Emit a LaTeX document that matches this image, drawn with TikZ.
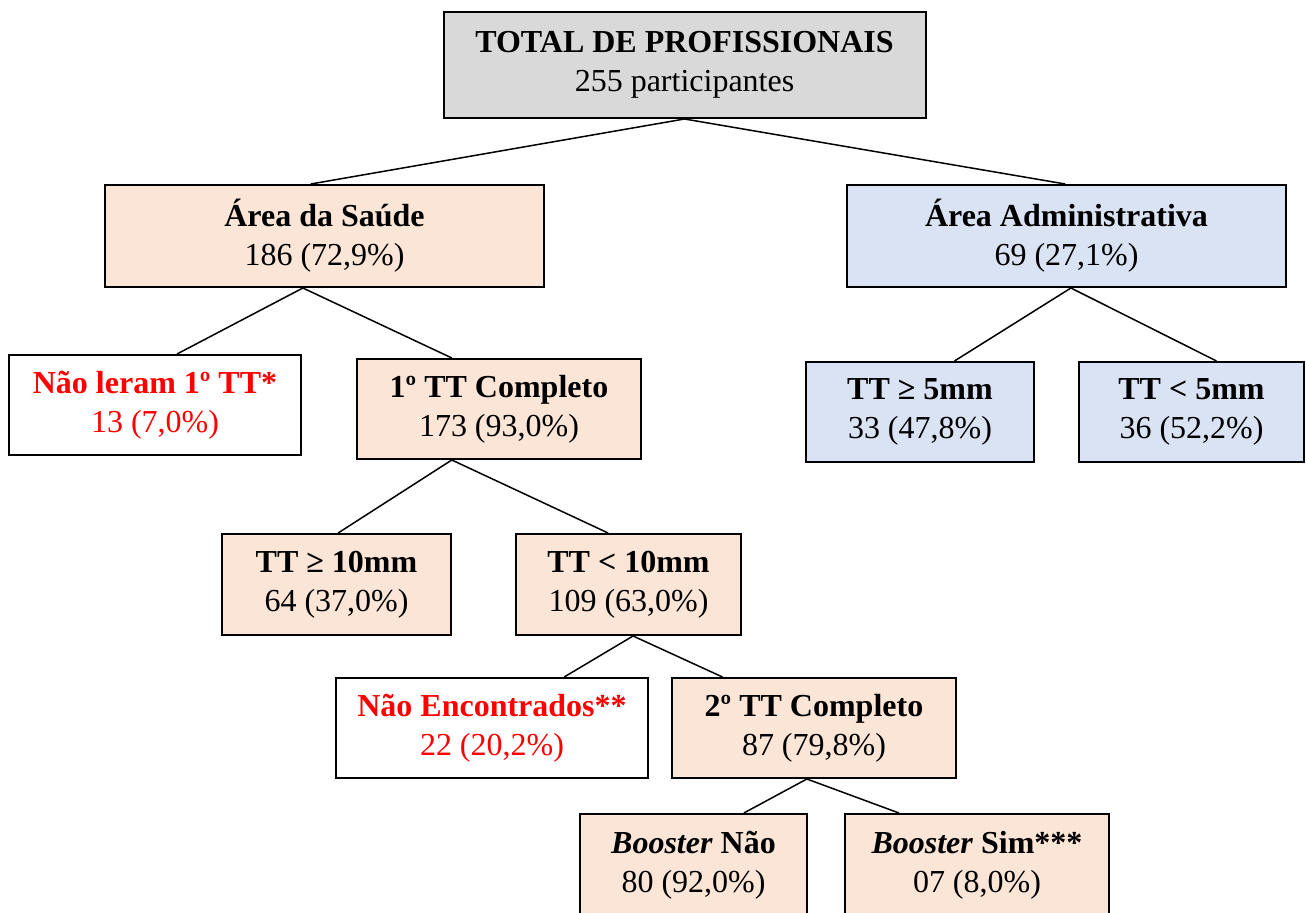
\documentclass[tikz,border=0pt]{standalone}
\usepackage{fontspec}
\setmainfont{Liberation Serif}
\usetikzlibrary{calc}
\definecolor{peach}{HTML}{FBE5D6}
\definecolor{bluebox}{HTML}{DAE3F3}
\definecolor{graybox}{HTML}{D9D9D9}
\definecolor{redtxt}{HTML}{FF0000}
\begin{document}
\begin{tikzpicture}[x=0.5pt,y=-0.5pt,
  box/.style={draw=black, line width=1pt, inner sep=0pt, align=center,
    font=\fontsize{16}{19.5}\selectfont},
  peachbox/.style={box, fill=peach},
  bluebx/.style={box, fill=bluebox},
  graybx/.style={box, fill=graybox},
  whitebx/.style={box, fill=white, text=redtxt},
  conn/.style={draw=black, line width=0.75pt}
]
\useasboundingbox (0,0) rectangle (1306,913);
\fill[white] (0,0) rectangle (1306,913);

\node[graybx, minimum width=241pt, minimum height=53pt] (top) at (684.5,65)
  {\textbf{TOTAL DE PROFISSIONAIS}\\255 participantes};
\node[peachbox, minimum width=219.5pt, minimum height=51pt] (saude) at (324.5,236)
  {\textbf{Área da Saúde}\\186 (72,9\%)};
\node[bluebx, minimum width=219.5pt, minimum height=51pt] (admin) at (1066.5,236)
  {\textbf{Área Administrativa}\\69 (27,1\%)};
\node[whitebx, minimum width=146pt, minimum height=50pt] (naoleram) at (155,405)
  {\textbf{Não leram 1º TT*}\\13 (7,0\%)};
\node[peachbox, minimum width=142pt, minimum height=50pt] (ttone) at (499,409)
  {\textbf{1º TT Completo}\\173 (93,0\%)};
\node[bluebx, minimum width=114pt, minimum height=50pt] (gefive) at (920,412)
  {\textbf{TT ≥ 5mm}\\33 (47,8\%)};
\node[bluebx, minimum width=112.5pt, minimum height=50pt] (ltfive) at (1191.5,412)
  {\textbf{TT < 5mm}\\36 (52,2\%)};
\node[peachbox, minimum width=114.5pt, minimum height=50.5pt] (geten) at (336.5,584.5)
  {\textbf{TT ≥ 10mm}\\64 (37,0\%)};
\node[peachbox, minimum width=112.5pt, minimum height=50.5pt] (ltten) at (628.5,584.5)
  {\textbf{TT < 10mm}\\109 (63,0\%)};
\node[whitebx, minimum width=156pt, minimum height=50pt] (naoenc) at (492,728)
  {\textbf{Não Encontrados**}\\22 (20,2\%)};
\node[peachbox, minimum width=142pt, minimum height=50pt] (tttwo) at (814,728)
  {\textbf{2º TT Completo}\\87 (79,8\%)};
\node[peachbox, minimum width=113.5pt, minimum height=51pt] (bnao) at (693.5,865)
  {\textbf{\textit{Booster} Não}\\80 (92,0\%)};
\node[peachbox, minimum width=131.75pt, minimum height=51pt] (bsim) at (977,865)
  {\textbf{\textit{Booster} Sim***}\\07 (8,0\%)};

\draw[conn] (top.south) -- ($(saude.north west)!0.469!(saude.north east)$);
\draw[conn] (top.south) -- ($(admin.north west)!0.497!(admin.north east)$);
\draw[conn] ($(saude.south west)!0.451!(saude.south east)$) -- ($(naoleram.north west)!0.575!(naoleram.north east)$);
\draw[conn] ($(saude.south west)!0.451!(saude.south east)$) -- ($(ttone.north west)!0.335!(ttone.north east)$);
\draw[conn] ($(admin.south west)!0.51!(admin.south east)$) -- ($(gefive.north west)!0.65!(gefive.north east)$);
\draw[conn] ($(admin.south west)!0.51!(admin.south east)$) -- ($(ltfive.north west)!0.61!(ltfive.north east)$);
\draw[conn] ($(ttone.south west)!0.335!(ttone.south east)$) -- ($(geten.north west)!0.507!(geten.north east)$);
\draw[conn] ($(ttone.south west)!0.335!(ttone.south east)$) -- ($(ltten.north west)!0.41!(ltten.north east)$);
\draw[conn] ($(ltten.south west)!0.52!(ltten.south east)$) -- ($(naoenc.north west)!0.73!(naoenc.north east)$);
\draw[conn] ($(ltten.south west)!0.52!(ltten.south east)$) -- ($(tttwo.north west)!0.18!(tttwo.north east)$);
\draw[conn] ($(tttwo.south west)!0.475!(tttwo.south east)$) -- ($(bnao.north west)!0.72!(bnao.north east)$);
\draw[conn] ($(tttwo.south west)!0.475!(tttwo.south east)$) -- ($(bsim.north west)!0.206!(bsim.north east)$);
\end{tikzpicture}
\end{document}
